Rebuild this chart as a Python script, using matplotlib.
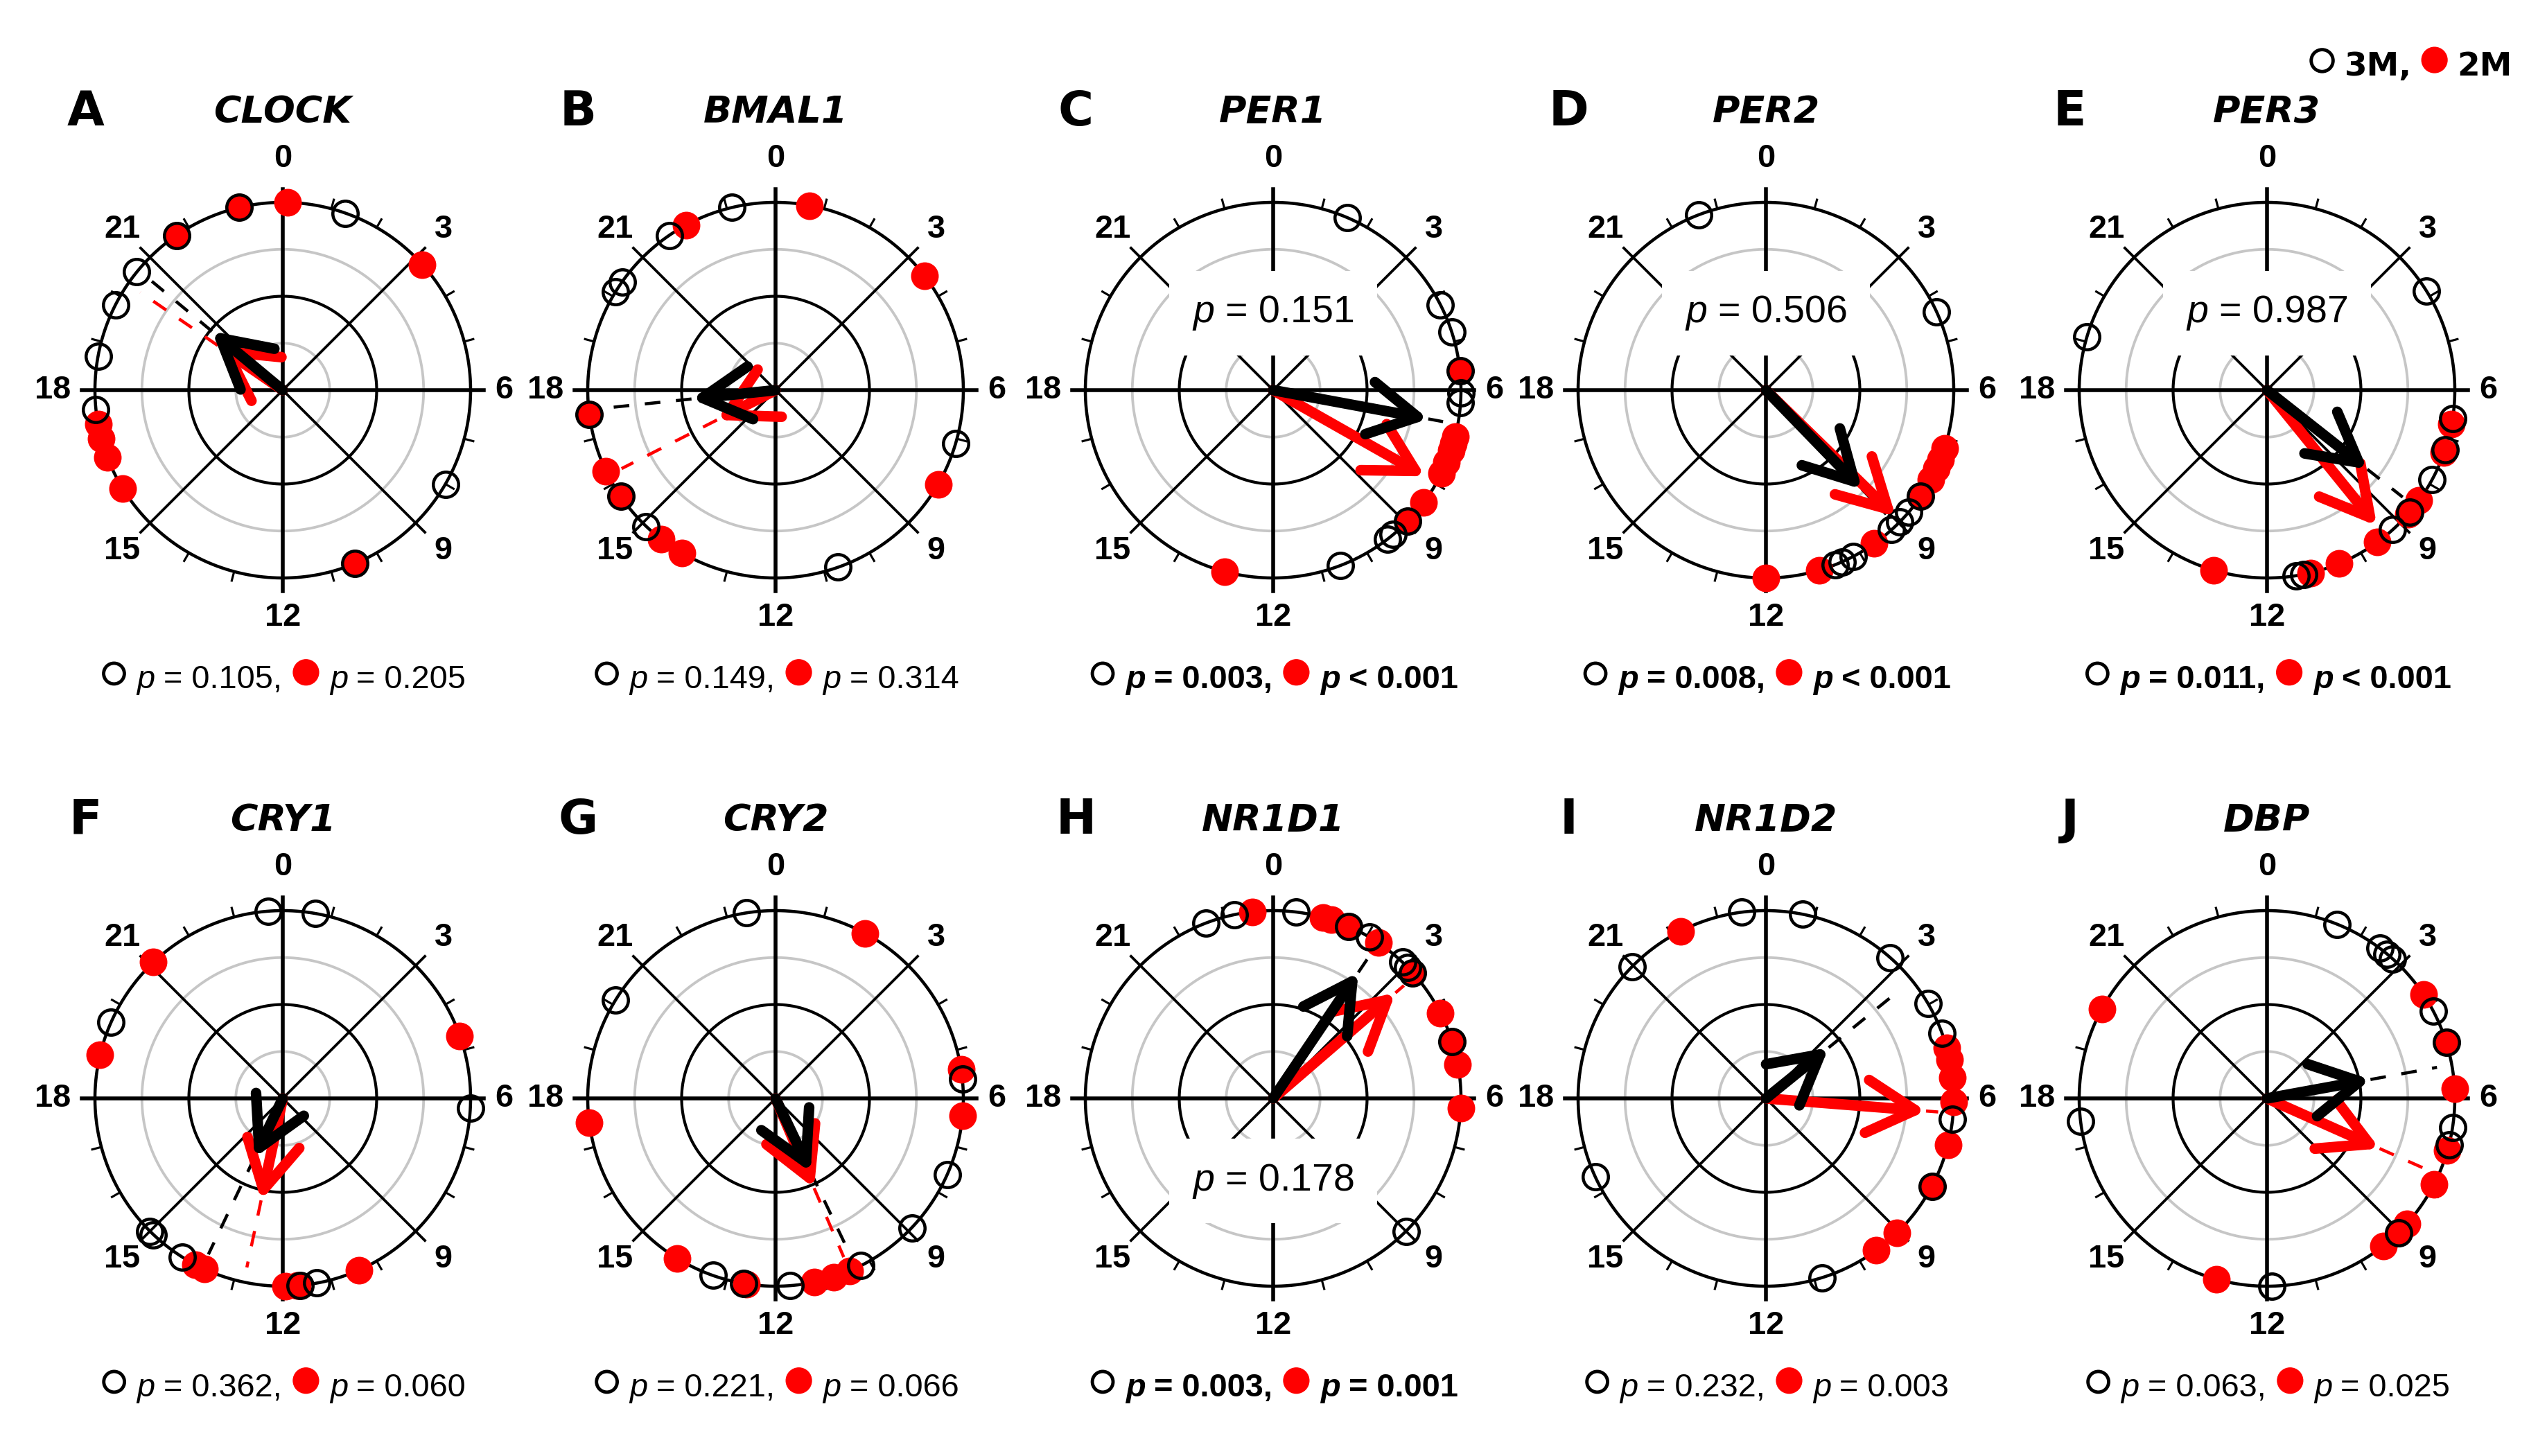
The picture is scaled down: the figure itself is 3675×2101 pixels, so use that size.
import numpy as np
import matplotlib.pyplot as plt
from matplotlib.offsetbox import TextArea, HPacker, AnnotationBbox, DrawingArea
from matplotlib.patches import Circle

plt.rcParams['mathtext.fontset'] = 'custom'
plt.rcParams['mathtext.rm'] = 'Liberation Sans'
plt.rcParams['mathtext.it'] = 'Liberation Sans:italic'
plt.rcParams['mathtext.bf'] = 'Liberation Sans:bold'

genes = ['CLOCK', 'BMAL1', 'PER1', 'PER2', 'PER3',
         'CRY1', 'CRY2', 'NR1D1', 'NR1D2', 'DBP']
letters = ['A', 'B', 'C', 'D', 'E', 'F', 'G', 'H', 'I', 'J']

# peak times (h) of each subject, 3M (open) and 2M (red)
peaks_3m = [
    [23.1, 1.3, 21.7, 20.6, 19.8, 18.7, 17.6, 8.0, 10.5],
    [23.1, 21.7, 20.35, 20.1, 17.5, 15.7, 14.9, 10.7, 7.1],
    [1.55, 4.2, 4.8, 5.6, 6.05, 6.25, 8.95, 9.35, 9.5, 10.6],
    [22.6, 4.35, 8.3, 8.7, 8.97, 9.2, 10.15, 10.4, 10.55],
    [3.87, 19.1, 6.58, 7.23, 7.9, 8.7, 9.2, 11.25, 11.4],
    [23.7, 0.67, 19.6, 6.2, 15.0, 14.9, 14.15, 11.65, 11.3],
    [23.4, 20.1, 5.6, 7.6, 8.9, 10.2, 11.7, 12.65, 13.3],
    [22.6, 23.2, 0.47, 1.58, 2.05, 2.9, 3.05, 3.2, 4.83, 9.0],
    [23.5, 0.75, 20.97, 2.76, 3.97, 4.65, 6.43, 7.86, 16.36, 10.84],
    [1.46, 2.46, 2.65, 2.8, 4.15, 4.84, 6.6, 6.95, 9.04, 17.53, 11.9],
]
peaks_2m = [
    [0.1, 23.1, 21.7, 3.2, 17.3, 17.0, 16.6, 15.9, 10.5],
    [0.7, 22.1, 3.5, 17.5, 16.3, 15.7, 14.5, 14.0, 8.0],
    [5.6, 6.95, 7.1, 7.25, 7.5, 7.75, 8.45, 8.95, 13.0],
    [7.2, 7.45, 7.65, 7.9, 8.3, 9.65, 10.9, 12.0],
    [6.7, 7.3, 8.4, 8.75, 9.6, 10.5, 11.1, 13.1],
    [21.1, 18.9, 4.7, 13.65, 13.85, 10.4, 11.95, 11.7],
    [1.9, 5.4, 6.35, 17.5, 14.1, 12.6, 11.2, 10.8, 10.45],
    [23.57, 1.03, 1.2, 1.58, 2.27, 3.2, 4.2, 4.83, 5.3, 6.2],
    [22.2, 4.96, 5.2, 5.57, 6.07, 6.95, 7.86, 9.05, 9.6],
    [19.9, 3.76, 4.84, 5.8, 7.07, 7.82, 8.79, 9.04, 9.45, 13.04],
]

# mean vectors: direction (h) and length
mean_h_3m = [20.65, 17.6, 6.7, 9.06, 8.55, 13.7, 10.3, 2.27, 3.4, 5.31]
mean_r_3m = [0.49, 0.45, 0.84, 0.735, 0.68, 0.35, 0.435, 0.81, 0.43, 0.56]
mean_h_2m = [20.3, 16.2, 7.97, 8.95, 9.4, 12.8, 10.45, 3.28, 6.3, 7.6]
mean_r_2m = [0.42, 0.35, 0.93, 0.965, 0.93, 0.555, 0.52, 0.86, 0.855, 0.656]

p_3m = ['= 0.105,', '= 0.149,', '= 0.003,', '= 0.008,', '= 0.011,',
        '= 0.362,', '= 0.221,', '= 0.003,', '= 0.232,', '= 0.063,']
p_2m = ['= 0.205', '= 0.314', '< 0.001', '< 0.001', '< 0.001',
        '= 0.060', '= 0.066', '= 0.001', '= 0.003', '= 0.025']
p_bold = [False, False, True, True, True, False, False, True, False, False]

# 3M vs 2M comparison
p_between = {2: '0.151', 3: '0.506', 4: '0.987', 7: '0.178'}
p_between_below = {7}

W, H, DPI = 3675, 2101, 250
R_PX = 271.0
RMAX = 1.6
cx = [408, 1119, 1837, 2548, 3271]
cy = [563, 1585]
lab_font = ['DejaVu Sans']
txt_font = ['Liberation Sans', 'DejaVu Sans']


def to_th(h):
    return np.asarray(h, dtype=float) * np.pi / 12.0


def frac(v):
    return 0.5 + v / (2 * RMAX)


def dot(filled, d=11.0, lw=1.4):
    # small circle symbol used inside text lines (units: points)
    da = DrawingArea(d + 2, d + 2, 0, 0.4 * d - 3.0)
    if filled:
        da.add_artist(Circle((d / 2 + 1, d / 2 + 1), d / 2, fc='red', ec='none'))
    else:
        da.add_artist(Circle((d / 2 + 1, d / 2 + 1), d / 2 - lw / 2, fc='none',
                             ec='black', lw=lw))
    return da


fig = plt.figure(figsize=(W / DPI, H / DPI), dpi=DPI)
ring = np.linspace(0, 2 * np.pi, 500)

for i, gene in enumerate(genes):
    x0 = cx[i % 5]
    y0 = cy[i // 5]
    half = RMAX * R_PX
    ax = fig.add_axes([(x0 - half) / W, 1 - (y0 + half) / H, 2 * half / W, 2 * half / H],
                      projection='polar')
    ax.set_theta_zero_location('N')
    ax.set_theta_direction(-1)
    ax.set_ylim(0, RMAX)
    ax.set_axis_off()
    ax.patch.set_visible(False)

    # rings
    for r, c, lw in [(0.25, '#c6c6c6', 1.1), (0.75, '#c6c6c6', 1.1),
                     (0.5, 'black', 1.2), (1.0, 'black', 1.3)]:
        ax.plot(ring, np.full_like(ring, r), color=c, lw=lw, zorder=1)

    # spokes and hour ticks
    for hh in range(24):
        th = to_th(hh)
        if hh % 6 == 0:
            ax.plot([th, th], [0, 1.07], color='black', lw=1.6, zorder=2)
        elif hh % 3 == 0:
            ax.plot([th, th], [0, 1.07], color='black', lw=1.1, zorder=2)
        else:
            ax.plot([th, th], [1.0, 1.05], color='black', lw=0.9, zorder=2)

    # hour labels
    lab_kw = dict(fontsize=13.5, fontweight='bold', family=txt_font)
    for hh in range(0, 24, 3):
        th = to_th(hh)
        if hh == 0:
            ax.text(th, 1.15, '0', ha='center', va='bottom', **lab_kw)
        elif hh == 12:
            ax.text(th, 1.13, '12', ha='center', va='top', **lab_kw)
        elif hh == 6:
            ax.text(th, 1.13, '6', ha='left', va='center', **lab_kw)
        elif hh == 18:
            ax.text(th, 1.13, '18', ha='right', va='center', **lab_kw)
        else:
            ax.text(th, 1.21, str(hh), ha='center', va='center', **lab_kw)

    # between-group p value box
    if i in p_between:
        below = i in p_between_below
        ax.text(np.pi if below else 0.0, 0.44 if below else 0.41,
                '$p$ = ' + p_between[i], ha='center', va='center', fontsize=16,
                family=txt_font, zorder=3.5,
                bbox=dict(boxstyle='square,pad=0.6', fc='white', ec='none'))

    # subjects
    ax.plot(to_th(peaks_2m[i]), np.ones(len(peaks_2m[i])), 'o', ms=11.5,
            mfc='red', mec='none', zorder=4, clip_on=False)
    ax.plot(to_th(peaks_3m[i]), np.ones(len(peaks_3m[i])), 'o', ms=10.5,
            mfc='none', mec='black', mew=1.3, zorder=5, clip_on=False)

    # mean vectors
    for mh, mr, col, z in [(mean_h_2m[i], mean_r_2m[i], 'red', 6),
                           (mean_h_3m[i], mean_r_3m[i], 'black', 7)]:
        th = to_th(mh)
        if mr < 0.9:
            ax.plot([th, th], [mr, 0.92], color=col, lw=1.3,
                    ls=(0, (5, 5)), zorder=3)
        ax.annotate('', xy=(th, mr), xytext=(0, 0),
                    arrowprops=dict(arrowstyle='->,head_length=1.0,head_width=0.55',
                                    lw=4.4, color=col, mutation_scale=20,
                                    shrinkA=0, shrinkB=0,
                                    capstyle='round', joinstyle='round'),
                    zorder=z)

    # panel letter and gene name
    ty = frac(1.48)
    ax.text(frac(-1.05), ty, letters[i], transform=ax.transAxes, ha='center',
            va='center', fontsize=20, fontweight='bold', family=lab_font)
    ax.text(0.5, ty, gene, transform=ax.transAxes, ha='center', va='center',
            fontsize=15.5, fontweight='bold', fontstyle='italic', family=lab_font)

    # Rayleigh p values under each clock
    fw = 'bold' if p_bold[i] else 'normal'
    base = dict(fontsize=13.5, family=txt_font, fontweight=fw, color='black')
    parts = [
        dot(False, d=10.0),
        TextArea('p', textprops=dict(base, fontstyle='italic')),
        TextArea(p_3m[i], textprops=base),
        dot(True, d=11.0),
        TextArea('p', textprops=dict(base, fontstyle='italic')),
        TextArea(p_2m[i], textprops=base),
    ]
    pack = HPacker(children=parts, align='baseline', pad=0, sep=3.5)
    ab = AnnotationBbox(pack, (0.5, frac(-1.53)), xycoords='axes fraction',
                        box_alignment=(0.5, 0.5), frameon=False)
    ax.add_artist(ab)

# legend top right
leg_base = dict(fontsize=13.5, family=lab_font, fontweight='bold', color='black')
leg = HPacker(children=[
    dot(False, d=10.5),
    TextArea('3M,', textprops=leg_base),
    dot(True, d=11.0),
    TextArea('2M', textprops=leg_base),
], align='baseline', pad=0, sep=3)
fig.add_artist(AnnotationBbox(leg, (3625 / W, 1 - 94 / H), xycoords='figure fraction',
                              box_alignment=(1.0, 0.5), frameon=False))

fig.savefig('out.png', dpi=DPI)
